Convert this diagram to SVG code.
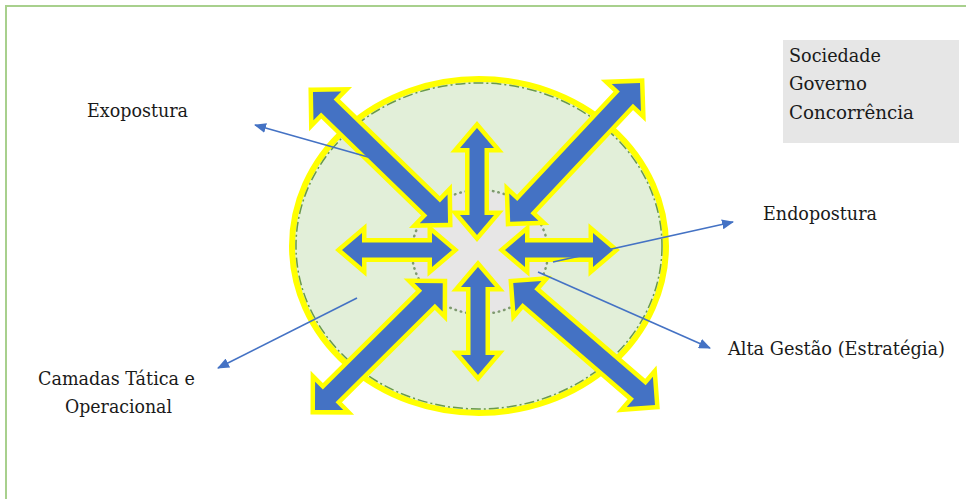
<svg xmlns="http://www.w3.org/2000/svg" width="966" height="499" viewBox="0 0 966 499">
<style>
.lbl{font-family:'DejaVu Serif','Liberation Serif',serif;font-size:19px;fill:#1a1a1a}
.arr{fill:#4472c4;stroke:#ffff00;stroke-width:9;paint-order:stroke;stroke-linejoin:miter;stroke-miterlimit:6}
.con{stroke:#4472c4;stroke-width:1.6;fill:none;marker-end:url(#tip)}
</style>
<defs>
<marker id="tip" viewBox="0 0 12 10" refX="11" refY="5" markerWidth="12" markerHeight="10" markerUnits="userSpaceOnUse" orient="auto">
<path d="M0,0 L12,5 L0,10 z" fill="#4472c4"/>
</marker>
</defs>
<rect x="0" y="0" width="966" height="499" fill="#ffffff"/>
<g id="frame"><rect x="6" y="6" width="1000" height="600" fill="#ffffff" stroke="#a8d08d" stroke-width="2"/></g>
<g id="outer-circle">
<ellipse cx="479" cy="246" rx="187" ry="167" fill="#e2efd9" stroke="#ffff00" stroke-width="6"/>
<ellipse cx="479" cy="246" rx="183" ry="163" fill="none" stroke="#6a9a4a" stroke-width="1.5" stroke-dasharray="10 3 2 3"/>
</g>
<g id="inner-circle">
<ellipse cx="480" cy="252" rx="68" ry="62" fill="#e7e6e6" stroke="#7f9a70" stroke-width="2.5" stroke-dasharray="0.5 5" stroke-linecap="round"/>
</g>
<g id="arrows">
<polygon class="arr" transform="translate(477,128) rotate(90)" points="0,0 20,-17 20,-7.5 87,-7.5 87,-17 107,0 87,17 87,7.5 20,7.5 20,17"/>
<polygon class="arr" transform="translate(478,267) rotate(90)" points="0,0 20,-17 20,-7.5 88,-7.5 88,-17 108,0 88,17 88,7.5 20,7.5 20,17"/>
<polygon class="arr" transform="translate(342,250)" points="0,0 20,-17 20,-7.5 90,-7.5 90,-17 110,0 90,17 90,7.5 20,7.5 20,17"/>
<polygon class="arr" transform="translate(505,250)" points="0,0 20,-17 20,-7.5 88,-7.5 88,-17 108,0 88,17 88,7.5 20,7.5 20,17"/>
<polygon class="arr" transform="translate(313,92) rotate(44.1)" points="0,0 20,-20 20,-9 168,-9 168,-20 188,0 168,20 168,9 20,9 20,20"/>
<polygon class="arr" transform="translate(640,83) rotate(133.1)" points="0,0 20,-20 20,-9 170,-9 170,-20 190,0 170,20 170,9 20,9 20,20"/>
<polygon class="arr" transform="translate(315,410) rotate(-44.8)" points="0,0 20,-20 20,-9 160,-9 160,-20 180,0 160,20 160,9 20,9 20,20"/>
<polygon class="arr" transform="translate(655,405) rotate(-139.3)" points="0,0 20,-20 20,-9 167,-9 167,-20 187,0 167,20 167,9 20,9 20,20"/>
</g>
<g id="env-box">
<rect x="783" y="40" width="176" height="103" fill="#e6e6e6"/>
<text class="lbl" x="789" y="62" textLength="92" lengthAdjust="spacingAndGlyphs">Sociedade</text>
<text class="lbl" x="789" y="90" textLength="78" lengthAdjust="spacingAndGlyphs">Governo</text>
<text class="lbl" x="789" y="119" textLength="125" lengthAdjust="spacingAndGlyphs">Concorrência</text>
</g>
<g id="connectors">
<line class="con" x1="368" y1="157" x2="255" y2="125"/>
<line class="con" x1="553" y1="262" x2="733" y2="222"/>
<line class="con" x1="538" y1="272" x2="710" y2="348"/>
<line class="con" x1="357" y1="298" x2="218" y2="368"/>
</g>
<g id="label-exo"><text class="lbl" x="87" y="117" textLength="101" lengthAdjust="spacingAndGlyphs">Exopostura</text></g>
<g id="label-endo"><text class="lbl" x="763" y="220" textLength="114" lengthAdjust="spacingAndGlyphs">Endopostura</text></g>
<g id="label-alta"><text class="lbl" x="728" y="355" textLength="217" lengthAdjust="spacingAndGlyphs">Alta Gestão (Estratégia)</text></g>
<g id="label-camadas">
<text class="lbl" x="38" y="385" textLength="157" lengthAdjust="spacingAndGlyphs">Camadas Tática e</text>
<text class="lbl" x="65" y="413" textLength="107" lengthAdjust="spacingAndGlyphs">Operacional</text>
</g>
</svg>
